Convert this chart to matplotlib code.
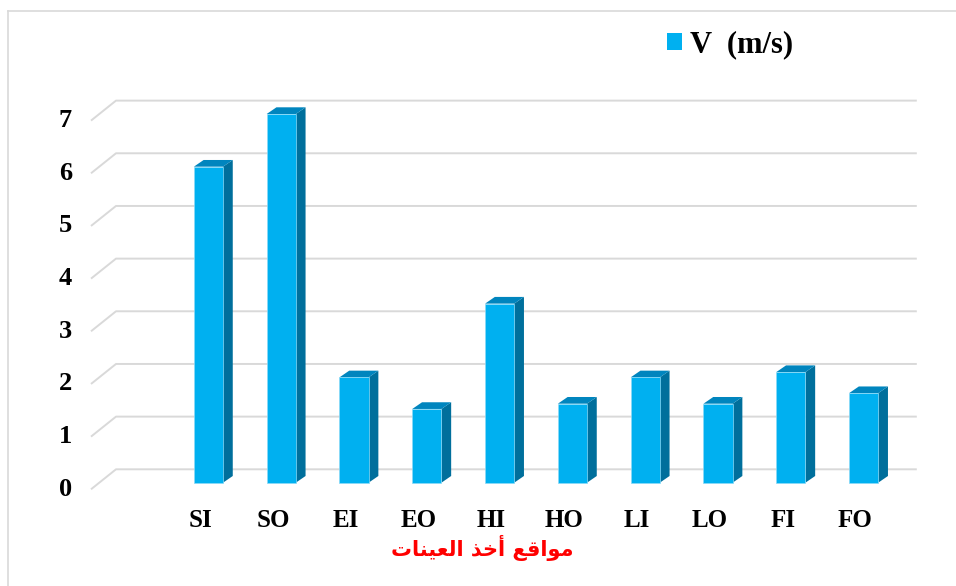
import matplotlib
matplotlib.use("Agg")
import matplotlib.pyplot as plt
from matplotlib.patches import Polygon, Patch
from matplotlib.lines import Line2D

# Sampling sites and measured flow velocity
sites = ["SI", "SO", "EI", "EO", "HI", "HO", "LI", "LO", "FI", "FO"]
velocity = [6.0, 7.0, 2.0, 1.4, 3.4, 1.5, 2.0, 1.5, 2.1, 1.7]
y_ticks = [0, 1, 2, 3, 4, 5, 6, 7]
legend_label = "V  (m/s)"
# "مواقع أخذ العينات" written in Arabic presentation forms, visual order
x_title = ("\uFE95\uFE8E\uFEE8\uFEF4\uFECC\uFEDF\uFE8D "
           "\uFEAC\uFEA7\uFE83 "
           "\uFECA\uFED7\uFE8D\uFEEE\uFEE3")

W, H = 956, 586
fig = plt.figure(figsize=(W / 100, H / 100), dpi=100)
ax = fig.add_axes([0, 0, 1, 1])
ax.set_axis_off()

# Linear mapping: one category slot = 72.8 px, one unit of V = 52.67 px
slot_px, unit_px = 72.8, 52.67
x0_px, y0_px = 116.0, H - 469.3
ax.set_xlim(-x0_px / slot_px, (W - x0_px) / slot_px)
ax.set_ylim(-y0_px / unit_px, (H - y0_px) / unit_px)

# Depth offsets of the pseudo-3D floor (front edge of the plot)
depth_dx, depth_dy = -25 / slot_px, -20 / unit_px
front_dx, front_dy = -16.75 / slot_px, -13.4 / unit_px
back_dx, back_dy = -7.0 / slot_px, -6.7 / unit_px
n_slots = len(sites) + 1
bar_w = 0.40

serif = "Liberation Serif"
grid_c = "#D9D9D9"

# Gridlines with perspective kink on the left wall
for v in y_ticks:
    ax.plot([depth_dx, 0, n_slots], [v + depth_dy, v, v],
            color=grid_c, lw=1.4, zorder=1, solid_capstyle="butt")
    ax.text(depth_dx - 0.262, v + depth_dy, str(v), ha="right", va="center",
            fontsize=19, fontweight="bold", family=serif, color="#000000")

face_c, side_c, top_c = "#00B0F0", "#006F9C", "#0085BE"
for i, (name, v) in enumerate(zip(sites, velocity)):
    c = i + 1.5
    xl, xr = c - bar_w / 2, c + bar_w / 2
    front = [(xl + front_dx, front_dy), (xr + front_dx, front_dy),
             (xr + front_dx, v + front_dy), (xl + front_dx, v + front_dy)]
    side = [(xr + front_dx, front_dy), (xr + back_dx, back_dy),
            (xr + back_dx, v + back_dy), (xr + front_dx, v + front_dy)]
    top = [(xl + front_dx, v + front_dy), (xl + back_dx, v + back_dy),
           (xr + back_dx, v + back_dy), (xr + front_dx, v + front_dy)]
    ax.add_patch(Polygon(side, closed=True, fc=side_c, ec="none", zorder=3))
    ax.add_patch(Polygon(top, closed=True, fc=top_c, ec="none", zorder=3))
    ax.add_patch(Polygon(front, closed=True, fc=face_c, ec="#8BDAF7",
                         lw=0.5, zorder=4))
    ax.text(c + depth_dx, -0.963, name, ha="center", va="center",
            fontsize=18, fontweight="bold", family=serif, color="#000000")

ax.text(5.034, -1.50, x_title, ha="center", va="center", fontsize=15,
        fontweight="bold", family="DejaVu Sans", color="#FF0000")

leg = fig.legend(handles=[Patch(fc=face_c, ec="none")], labels=[legend_label],
                 loc="center left", bbox_to_anchor=(667 / W, 1 - 45 / H),
                 frameon=False, borderpad=0, borderaxespad=0,
                 handlelength=0.49, handleheight=0.49, handletextpad=0.25,
                 prop={"family": serif, "weight": "bold", "size": 22})

# Chart-area border
fig.add_artist(Line2D([8 / W, 8 / W], [0, 1 - 11 / H], color=grid_c, lw=1.2,
                      transform=fig.transFigure))
fig.add_artist(Line2D([8 / W, 1], [1 - 11 / H, 1 - 11 / H], color=grid_c,
                      lw=1.2, transform=fig.transFigure))

fig.savefig("out.png", dpi=100)
